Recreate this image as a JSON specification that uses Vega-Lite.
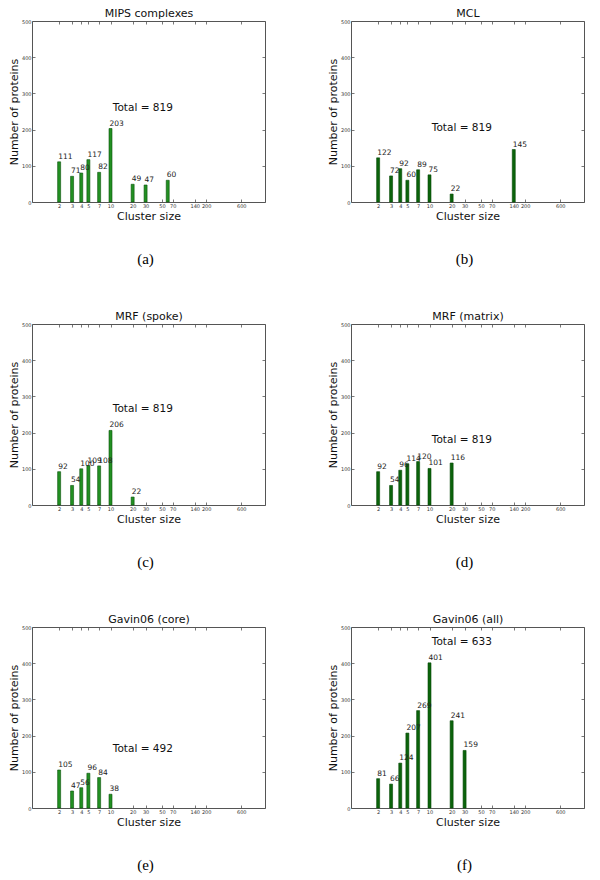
{
  "$schema": "https://vega.github.io/schema/vega-lite/v6.json",
  "padding": {"left": 7, "top": 7, "right": 0, "bottom": 0},
  "background": "white",
  "datasets": {
    "bars": [
      {"panel": "a", "size": 2, "count": 111}, {"panel": "a", "size": 3, "count": 71}, {"panel": "a", "size": 4, "count": 80},
      {"panel": "a", "size": 5, "count": 117}, {"panel": "a", "size": 7, "count": 82}, {"panel": "a", "size": 10, "count": 203},
      {"panel": "a", "size": 20, "count": 49}, {"panel": "a", "size": 30, "count": 47}, {"panel": "a", "size": 60, "count": 60},
      {"panel": "b", "size": 2, "count": 122}, {"panel": "b", "size": 3, "count": 72}, {"panel": "b", "size": 4, "count": 92},
      {"panel": "b", "size": 5, "count": 60}, {"panel": "b", "size": 7, "count": 89}, {"panel": "b", "size": 10, "count": 75},
      {"panel": "b", "size": 20, "count": 22}, {"panel": "b", "size": 140, "count": 145},
      {"panel": "c", "size": 2, "count": 92}, {"panel": "c", "size": 3, "count": 54}, {"panel": "c", "size": 4, "count": 100},
      {"panel": "c", "size": 5, "count": 109}, {"panel": "c", "size": 7, "count": 108}, {"panel": "c", "size": 10, "count": 206},
      {"panel": "c", "size": 20, "count": 22},
      {"panel": "d", "size": 2, "count": 92}, {"panel": "d", "size": 3, "count": 54}, {"panel": "d", "size": 4, "count": 96},
      {"panel": "d", "size": 5, "count": 114}, {"panel": "d", "size": 7, "count": 120}, {"panel": "d", "size": 10, "count": 101},
      {"panel": "d", "size": 20, "count": 116},
      {"panel": "e", "size": 2, "count": 105}, {"panel": "e", "size": 3, "count": 47}, {"panel": "e", "size": 4, "count": 56},
      {"panel": "e", "size": 5, "count": 96}, {"panel": "e", "size": 7, "count": 84}, {"panel": "e", "size": 10, "count": 38},
      {"panel": "f", "size": 2, "count": 81}, {"panel": "f", "size": 3, "count": 66}, {"panel": "f", "size": 4, "count": 124},
      {"panel": "f", "size": 5, "count": 207}, {"panel": "f", "size": 7, "count": 269}, {"panel": "f", "size": 10, "count": 401},
      {"panel": "f", "size": 20, "count": 241}, {"panel": "f", "size": 30, "count": 159}
    ],
    "totals": [
      {"panel": "a", "tx": 27.5, "ty": 261, "label": "Total = 819"},
      {"panel": "b", "tx": 27.5, "ty": 204, "label": "Total = 819"},
      {"panel": "c", "tx": 27.5, "ty": 265, "label": "Total = 819"},
      {"panel": "d", "tx": 27.5, "ty": 180, "label": "Total = 819"},
      {"panel": "e", "tx": 27.5, "ty": 163, "label": "Total = 492"},
      {"panel": "f", "tx": 27.5, "ty": 459, "label": "Total = 633"}
    ]
  },
  "columns": 2,
  "spacing": {"column": 60, "row": 42},
  "concat": [
    {
      "title": {"text": "(a)"},
      "width": 233, "height": 181,
      "resolve": {"axis": {"x": "independent", "y": "independent"}},
      "layer": [
        {"data": {"name": "bars"}, "transform": [{"filter": "datum.panel == 'a'"}],
         "mark": {"type": "bar", "size": 3, "fill": "#229022", "stroke": "#0a500a", "strokeWidth": 0.6},
         "encoding": {
           "x": {"field": "size", "type": "quantitative", "scale": {"type": "log", "domain": [1, 1080], "nice": false},
                 "axis": {"orient": "bottom", "values": [2, 3, 4, 5, 7, 10, 20, 30, 50, 70, 140, 200, 600], "title": "Cluster size"}},
           "y": {"field": "count", "type": "quantitative", "scale": {"domain": [0, 500], "nice": false},
                 "axis": {"orient": "left", "values": [0, 100, 200, 300, 400, 500], "title": "Number of proteins"}}
         }},
        {"data": {"name": "bars"}, "transform": [{"filter": "datum.panel == 'a'"}],
         "mark": {"type": "text", "align": "left", "baseline": "bottom", "dx": -1, "dy": -1, "fontSize": 7.5, "color": "#222", "font": "DejaVu Sans"},
         "encoding": {
           "x": {"field": "size", "type": "quantitative",
                 "axis": {"orient": "top", "labels": false, "values": [2, 3, 4, 5, 7, 10, 20, 30, 50, 70, 140, 200, 600], "title": "MIPS complexes"}},
           "y": {"field": "count", "type": "quantitative",
                 "axis": {"orient": "right", "labels": false, "values": [0, 100, 200, 300, 400, 500], "title": null}},
           "text": {"field": "count"}
         }},
        {"data": {"name": "totals"}, "transform": [{"filter": "datum.panel == 'a'"}],
         "mark": {"type": "text", "align": "center", "baseline": "middle", "fontSize": 10.5, "color": "#111", "font": "DejaVu Sans"},
         "encoding": {
           "x": {"field": "tx", "type": "quantitative", "axis": null},
           "y": {"field": "ty", "type": "quantitative", "axis": null},
           "text": {"field": "label"}
         }}
      ]
    },
    {
      "title": {"text": "(b)"},
      "width": 233, "height": 181,
      "resolve": {"axis": {"x": "independent", "y": "independent"}},
      "layer": [
        {"data": {"name": "bars"}, "transform": [{"filter": "datum.panel == 'b'"}],
         "mark": {"type": "bar", "size": 3, "fill": "#0b640b", "stroke": "#064806", "strokeWidth": 0.6},
         "encoding": {
           "x": {"field": "size", "type": "quantitative", "scale": {"type": "log", "domain": [1, 1080], "nice": false},
                 "axis": {"orient": "bottom", "values": [2, 3, 4, 5, 7, 10, 20, 30, 50, 70, 140, 200, 600], "title": "Cluster size"}},
           "y": {"field": "count", "type": "quantitative", "scale": {"domain": [0, 500], "nice": false},
                 "axis": {"orient": "left", "values": [0, 100, 200, 300, 400, 500], "title": "Number of proteins"}}
         }},
        {"data": {"name": "bars"}, "transform": [{"filter": "datum.panel == 'b'"}],
         "mark": {"type": "text", "align": "left", "baseline": "bottom", "dx": -1, "dy": -1, "fontSize": 7.5, "color": "#222", "font": "DejaVu Sans"},
         "encoding": {
           "x": {"field": "size", "type": "quantitative",
                 "axis": {"orient": "top", "labels": false, "values": [2, 3, 4, 5, 7, 10, 20, 30, 50, 70, 140, 200, 600], "title": "MCL"}},
           "y": {"field": "count", "type": "quantitative",
                 "axis": {"orient": "right", "labels": false, "values": [0, 100, 200, 300, 400, 500], "title": null}},
           "text": {"field": "count"}
         }},
        {"data": {"name": "totals"}, "transform": [{"filter": "datum.panel == 'b'"}],
         "mark": {"type": "text", "align": "center", "baseline": "middle", "fontSize": 10.5, "color": "#111", "font": "DejaVu Sans"},
         "encoding": {
           "x": {"field": "tx", "type": "quantitative", "axis": null},
           "y": {"field": "ty", "type": "quantitative", "axis": null},
           "text": {"field": "label"}
         }}
      ]
    },
    {
      "title": {"text": "(c)"},
      "width": 233, "height": 181,
      "resolve": {"axis": {"x": "independent", "y": "independent"}},
      "layer": [
        {"data": {"name": "bars"}, "transform": [{"filter": "datum.panel == 'c'"}],
         "mark": {"type": "bar", "size": 3, "fill": "#229022", "stroke": "#0a500a", "strokeWidth": 0.6},
         "encoding": {
           "x": {"field": "size", "type": "quantitative", "scale": {"type": "log", "domain": [1, 1080], "nice": false},
                 "axis": {"orient": "bottom", "values": [2, 3, 4, 5, 7, 10, 20, 30, 50, 70, 140, 200, 600], "title": "Cluster size"}},
           "y": {"field": "count", "type": "quantitative", "scale": {"domain": [0, 500], "nice": false},
                 "axis": {"orient": "left", "values": [0, 100, 200, 300, 400, 500], "title": "Number of proteins"}}
         }},
        {"data": {"name": "bars"}, "transform": [{"filter": "datum.panel == 'c'"}],
         "mark": {"type": "text", "align": "left", "baseline": "bottom", "dx": -1, "dy": -1, "fontSize": 7.5, "color": "#222", "font": "DejaVu Sans"},
         "encoding": {
           "x": {"field": "size", "type": "quantitative",
                 "axis": {"orient": "top", "labels": false, "values": [2, 3, 4, 5, 7, 10, 20, 30, 50, 70, 140, 200, 600], "title": "MRF (spoke)"}},
           "y": {"field": "count", "type": "quantitative",
                 "axis": {"orient": "right", "labels": false, "values": [0, 100, 200, 300, 400, 500], "title": null}},
           "text": {"field": "count"}
         }},
        {"data": {"name": "totals"}, "transform": [{"filter": "datum.panel == 'c'"}],
         "mark": {"type": "text", "align": "center", "baseline": "middle", "fontSize": 10.5, "color": "#111", "font": "DejaVu Sans"},
         "encoding": {
           "x": {"field": "tx", "type": "quantitative", "axis": null},
           "y": {"field": "ty", "type": "quantitative", "axis": null},
           "text": {"field": "label"}
         }}
      ]
    },
    {
      "title": {"text": "(d)"},
      "width": 233, "height": 181,
      "resolve": {"axis": {"x": "independent", "y": "independent"}},
      "layer": [
        {"data": {"name": "bars"}, "transform": [{"filter": "datum.panel == 'd'"}],
         "mark": {"type": "bar", "size": 3, "fill": "#0b640b", "stroke": "#064806", "strokeWidth": 0.6},
         "encoding": {
           "x": {"field": "size", "type": "quantitative", "scale": {"type": "log", "domain": [1, 1080], "nice": false},
                 "axis": {"orient": "bottom", "values": [2, 3, 4, 5, 7, 10, 20, 30, 50, 70, 140, 200, 600], "title": "Cluster size"}},
           "y": {"field": "count", "type": "quantitative", "scale": {"domain": [0, 500], "nice": false},
                 "axis": {"orient": "left", "values": [0, 100, 200, 300, 400, 500], "title": "Number of proteins"}}
         }},
        {"data": {"name": "bars"}, "transform": [{"filter": "datum.panel == 'd'"}],
         "mark": {"type": "text", "align": "left", "baseline": "bottom", "dx": -1, "dy": -1, "fontSize": 7.5, "color": "#222", "font": "DejaVu Sans"},
         "encoding": {
           "x": {"field": "size", "type": "quantitative",
                 "axis": {"orient": "top", "labels": false, "values": [2, 3, 4, 5, 7, 10, 20, 30, 50, 70, 140, 200, 600], "title": "MRF (matrix)"}},
           "y": {"field": "count", "type": "quantitative",
                 "axis": {"orient": "right", "labels": false, "values": [0, 100, 200, 300, 400, 500], "title": null}},
           "text": {"field": "count"}
         }},
        {"data": {"name": "totals"}, "transform": [{"filter": "datum.panel == 'd'"}],
         "mark": {"type": "text", "align": "center", "baseline": "middle", "fontSize": 10.5, "color": "#111", "font": "DejaVu Sans"},
         "encoding": {
           "x": {"field": "tx", "type": "quantitative", "axis": null},
           "y": {"field": "ty", "type": "quantitative", "axis": null},
           "text": {"field": "label"}
         }}
      ]
    },
    {
      "title": {"text": "(e)"},
      "width": 233, "height": 181,
      "resolve": {"axis": {"x": "independent", "y": "independent"}},
      "layer": [
        {"data": {"name": "bars"}, "transform": [{"filter": "datum.panel == 'e'"}],
         "mark": {"type": "bar", "size": 3, "fill": "#229022", "stroke": "#0a500a", "strokeWidth": 0.6},
         "encoding": {
           "x": {"field": "size", "type": "quantitative", "scale": {"type": "log", "domain": [1, 1080], "nice": false},
                 "axis": {"orient": "bottom", "values": [2, 3, 4, 5, 7, 10, 20, 30, 50, 70, 140, 200, 600], "title": "Cluster size"}},
           "y": {"field": "count", "type": "quantitative", "scale": {"domain": [0, 500], "nice": false},
                 "axis": {"orient": "left", "values": [0, 100, 200, 300, 400, 500], "title": "Number of proteins"}}
         }},
        {"data": {"name": "bars"}, "transform": [{"filter": "datum.panel == 'e'"}],
         "mark": {"type": "text", "align": "left", "baseline": "bottom", "dx": -1, "dy": -1, "fontSize": 7.5, "color": "#222", "font": "DejaVu Sans"},
         "encoding": {
           "x": {"field": "size", "type": "quantitative",
                 "axis": {"orient": "top", "labels": false, "values": [2, 3, 4, 5, 7, 10, 20, 30, 50, 70, 140, 200, 600], "title": "Gavin06 (core)"}},
           "y": {"field": "count", "type": "quantitative",
                 "axis": {"orient": "right", "labels": false, "values": [0, 100, 200, 300, 400, 500], "title": null}},
           "text": {"field": "count"}
         }},
        {"data": {"name": "totals"}, "transform": [{"filter": "datum.panel == 'e'"}],
         "mark": {"type": "text", "align": "center", "baseline": "middle", "fontSize": 10.5, "color": "#111", "font": "DejaVu Sans"},
         "encoding": {
           "x": {"field": "tx", "type": "quantitative", "axis": null},
           "y": {"field": "ty", "type": "quantitative", "axis": null},
           "text": {"field": "label"}
         }}
      ]
    },
    {
      "title": {"text": "(f)"},
      "width": 233, "height": 181,
      "resolve": {"axis": {"x": "independent", "y": "independent"}},
      "layer": [
        {"data": {"name": "bars"}, "transform": [{"filter": "datum.panel == 'f'"}],
         "mark": {"type": "bar", "size": 3, "fill": "#0b640b", "stroke": "#064806", "strokeWidth": 0.6},
         "encoding": {
           "x": {"field": "size", "type": "quantitative", "scale": {"type": "log", "domain": [1, 1080], "nice": false},
                 "axis": {"orient": "bottom", "values": [2, 3, 4, 5, 7, 10, 20, 30, 50, 70, 140, 200, 600], "title": "Cluster size"}},
           "y": {"field": "count", "type": "quantitative", "scale": {"domain": [0, 500], "nice": false},
                 "axis": {"orient": "left", "values": [0, 100, 200, 300, 400, 500], "title": "Number of proteins"}}
         }},
        {"data": {"name": "bars"}, "transform": [{"filter": "datum.panel == 'f'"}],
         "mark": {"type": "text", "align": "left", "baseline": "bottom", "dx": -1, "dy": -1, "fontSize": 7.5, "color": "#222", "font": "DejaVu Sans"},
         "encoding": {
           "x": {"field": "size", "type": "quantitative",
                 "axis": {"orient": "top", "labels": false, "values": [2, 3, 4, 5, 7, 10, 20, 30, 50, 70, 140, 200, 600], "title": "Gavin06 (all)"}},
           "y": {"field": "count", "type": "quantitative",
                 "axis": {"orient": "right", "labels": false, "values": [0, 100, 200, 300, 400, 500], "title": null}},
           "text": {"field": "count"}
         }},
        {"data": {"name": "totals"}, "transform": [{"filter": "datum.panel == 'f'"}],
         "mark": {"type": "text", "align": "center", "baseline": "middle", "fontSize": 10.5, "color": "#111", "font": "DejaVu Sans"},
         "encoding": {
           "x": {"field": "tx", "type": "quantitative", "axis": null},
           "y": {"field": "ty", "type": "quantitative", "axis": null},
           "text": {"field": "label"}
         }}
      ]
    }
  ],
  "config": {
    "view": {"stroke": "#555", "strokeWidth": 1},
    "title": {"orient": "bottom", "font": "Liberation Serif", "fontSize": 15, "fontWeight": "normal", "color": "#000", "offset": 31, "anchor": "middle", "dx": -3},
    "axis": {
      "domain": false, "grid": false,
      "tickSize": -3, "tickColor": "#555", "tickWidth": 0.8,
      "labelFont": "DejaVu Sans", "labelFontSize": 5, "labelColor": "#333", "labelPadding": 4, "labelOverlap": false,
      "titleFont": "DejaVu Sans", "titleFontSize": 11, "titleFontWeight": "normal", "titleColor": "#111", "titlePadding": 2
    }
  }
}
